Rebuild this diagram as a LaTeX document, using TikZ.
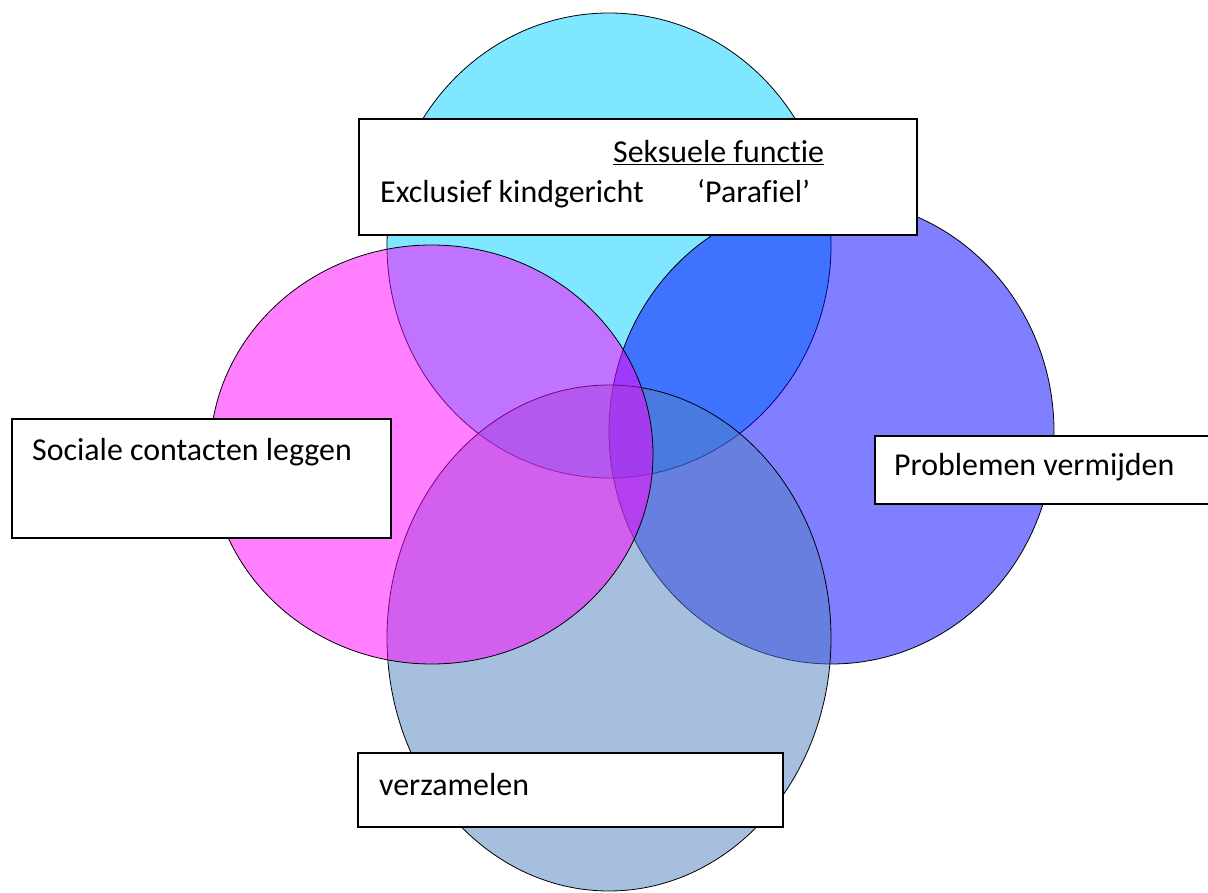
\documentclass[tikz,border=0pt]{standalone}
\usepackage{fontspec}
\setmainfont{Carlito}[Ligatures=NoCommon]
\definecolor{cyanc}{RGB}{0,208,255}
\definecolor{bluec}{RGB}{0,0,255}
\definecolor{grayc}{RGB}{81,129,193}
\definecolor{magc}{RGB}{255,0,255}
\tikzset{
  venn/.style={draw=black, line width=0.8pt, fill opacity=0.5},
  lbox/.style={draw=black, line width=1.6pt, fill=white},
  txt/.style={anchor=base west, inner sep=0pt, font=\fontsize{31.9}{38}\selectfont}
}
\begin{document}
\begin{tikzpicture}[x=1pt,y=-1pt]
\useasboundingbox (0,0) rectangle (1208,893);
\fill[white] (0,0) rectangle (1208,893);
% circles
\path[venn, fill=cyanc] (609,245.5) ellipse [x radius=222, y radius=232.5];
\path[venn, fill=bluec] (831.5,431.5) ellipse [x radius=222.5, y radius=232.5];
\path[venn, fill=grayc] (609,638) ellipse [x radius=222, y radius=253];
\path[venn, fill=magc] (431.5,454.5) ellipse [x radius=221.5, y radius=209.5];
% boxes
\node[lbox, minimum width=558pt, minimum height=116pt, inner sep=0pt] (topbox) at (638,177) {};
\node[lbox, minimum width=379pt, minimum height=119pt, inner sep=0pt] (leftbox) at (201.5,478.5) {};
\node[lbox, minimum width=340pt, minimum height=68pt, inner sep=0pt, anchor=west] (rightbox) at (874,470) {};
\node[lbox, minimum width=425pt, minimum height=74pt, inner sep=0pt] (botbox) at (570.5,790) {};
% texts
\node[txt] (t1) at (613,163) {\underline{Seksuele functie}};
\node[txt] (t2) at (380,203) {Exclusief kindgericht};
\node[txt] (t3) at (697,203) {‘Parafiel’};
\node[txt] (t4) at (32,460) {Sociale contacten leggen};
\node[txt] (t5) at (894,475) {Problemen vermijden};
\node[txt] (t6) at (379,795) {verzamelen};
\end{tikzpicture}
\end{document}
